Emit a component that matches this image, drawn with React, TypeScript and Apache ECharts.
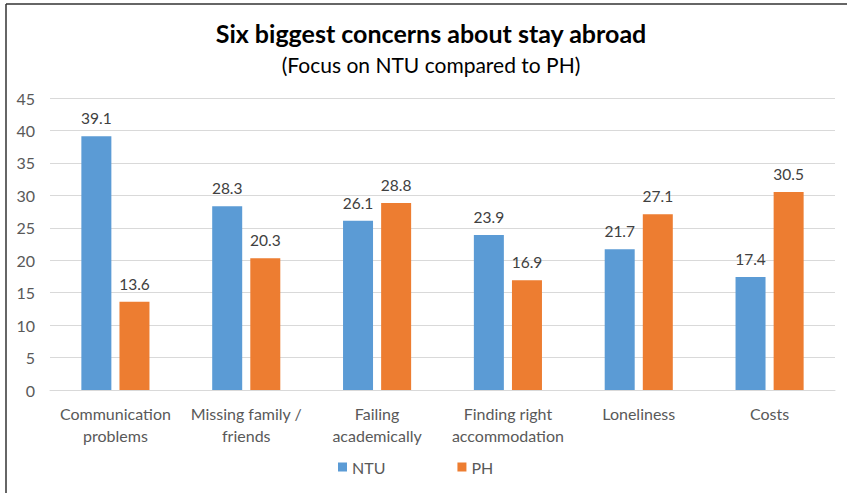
import React, { useEffect, useRef } from "react";
import * as echarts from "echarts";

const categories = [
  "Communication\nproblems",
  "Missing family /\nfriends",
  "Failing\nacademically",
  "Finding right\naccommodation",
  "Loneliness",
  "Costs",
];
const ntuValues = [39.1, 28.3, 26.1, 23.9, 21.7, 17.4];
const phValues = [13.6, 20.3, 28.8, 16.9, 27.1, 30.5];
const titleText = "Six biggest concerns about stay abroad";
const subtitleText = "(Focus on NTU compared to PH)";

const FONT = "Lato, 'Open Sans', sans-serif";

export default function App() {
  const ref = useRef<HTMLDivElement>(null);
  useEffect(() => {
    document.body.style.margin = "0";
    const chart = echarts.init(ref.current!, null, { renderer: "svg" });
    const labelStyle = {
      show: true,
      position: "top" as const,
      distance: 10,
      fontSize: 15.5,
      color: "#404040",
      fontFamily: FONT,
      formatter: (p: any) => p.value.toFixed(1),
    };
    chart.setOption({
      animation: false,
      backgroundColor: "#ffffff",
      legend: {
        bottom: 13,
        left: 333,
        itemWidth: 9,
        itemHeight: 9,
        itemGap: 72,
        icon: "rect",
        textStyle: { fontSize: 16, color: "#595959", fontFamily: FONT },
        data: ["NTU", "PH"],
      },
      grid: { left: 50, right: 12, top: 98, bottom: 103, containLabel: false },
      xAxis: {
        type: "category",
        data: categories,
        axisTick: { show: false },
        axisLine: { lineStyle: { color: "#d9d9d9", width: 1 } },
        axisLabel: {
          fontSize: 16,
          color: "#595959",
          fontFamily: FONT,
          lineHeight: 22,
          margin: 12,
          interval: 0,
        },
      },
      yAxis: {
        type: "value",
        min: 0,
        max: 45,
        interval: 5,
        axisLine: { show: false },
        axisTick: { show: false },
        axisLabel: { fontSize: 16, color: "#595959", fontFamily: FONT, margin: 15 },
        splitLine: { lineStyle: { color: "#d9d9d9", width: 1 } },
      },
      series: [
        {
          name: "NTU",
          type: "bar",
          data: ntuValues,
          barWidth: 30,
          barGap: "27%",
          itemStyle: { color: "#5b9bd5" },
          label: labelStyle,
        },
        {
          name: "PH",
          type: "bar",
          data: phValues,
          barWidth: 30,
          itemStyle: { color: "#ed7d31" },
          label: labelStyle,
        },
      ],
      graphic: [
        {
          type: "text",
          x: 431,
          y: 33,
          style: {
            text: titleText,
            textAlign: "center",
            textVerticalAlign: "middle",
            fontSize: 25,
            fontWeight: "bold",
            fill: "#000",
            fontFamily: FONT,
          },
        },
        {
          type: "text",
          x: 431,
          y: 64,
          style: {
            text: subtitleText,
            textAlign: "center",
            textVerticalAlign: "middle",
            fontSize: 21,
            fill: "#000",
            fontFamily: FONT,
          },
        },
        { type: "line", shape: { x1: 6, y1: 4, x2: 847, y2: 4 }, style: { stroke: "#333", lineWidth: 1.5 } },
        { type: "line", shape: { x1: 6, y1: 4, x2: 6, y2: 493 }, style: { stroke: "#333", lineWidth: 1.5 } },
      ],
    });
    return () => chart.dispose();
  }, []);
  return <div ref={ref} style={{ width: 847, height: 493 }} />;
}
